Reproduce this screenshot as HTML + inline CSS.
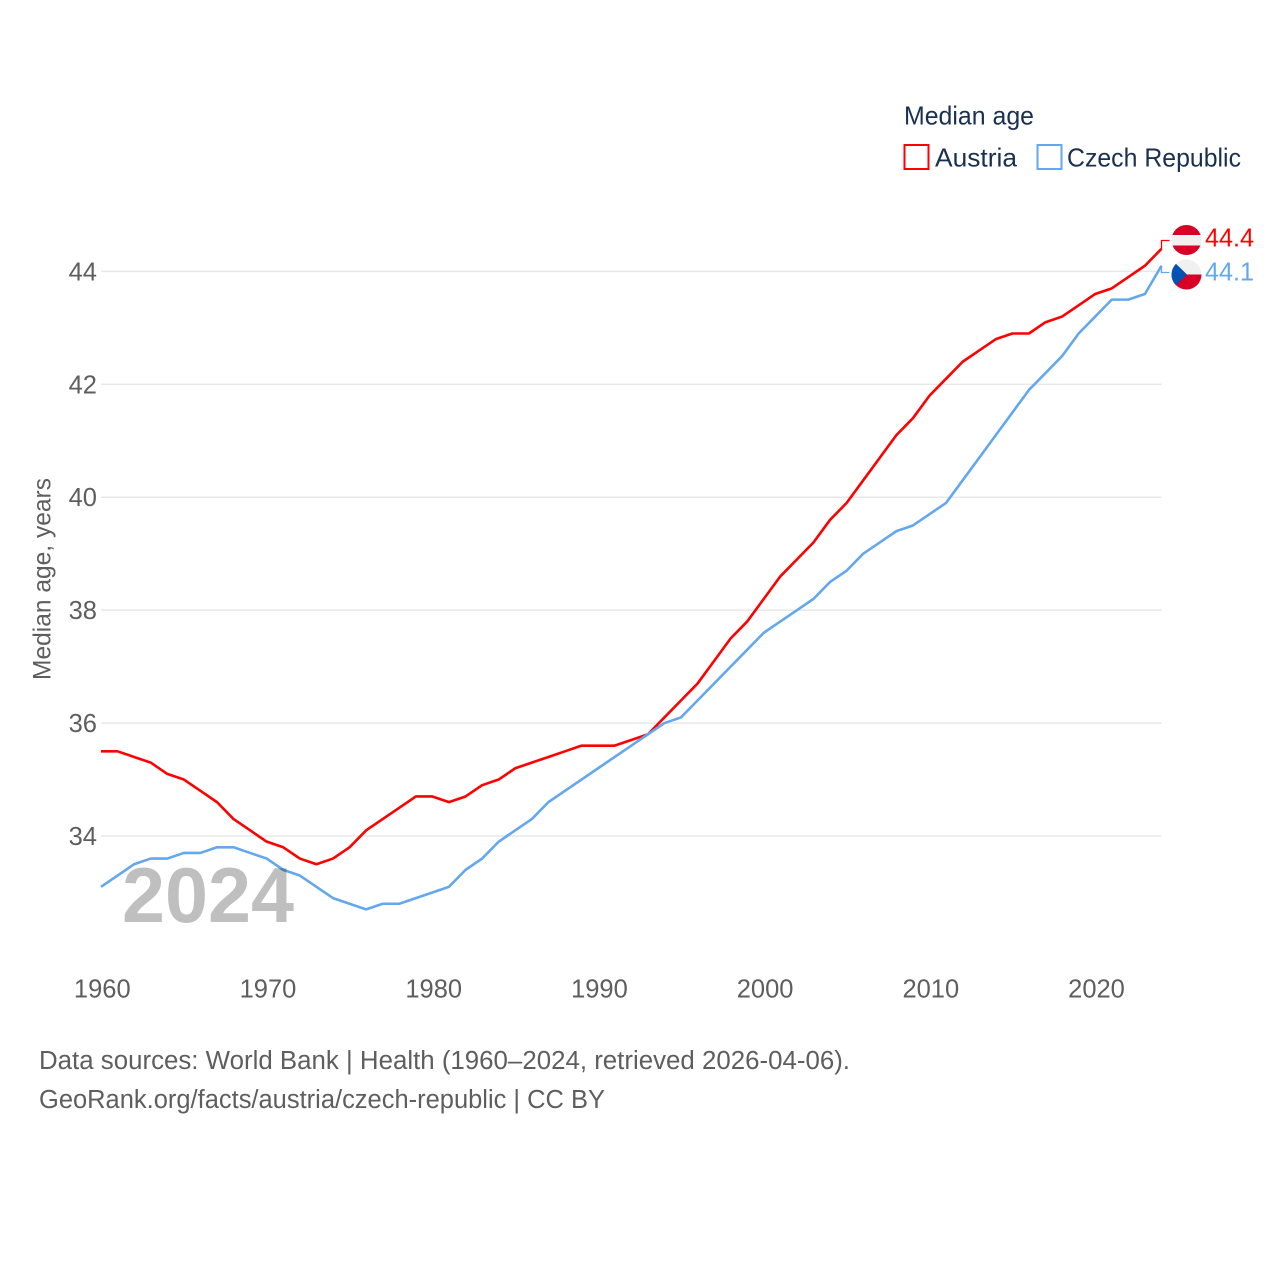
<!DOCTYPE html>
<html lang="en">
<head>
<meta charset="utf-8">
<title>Median age: Austria and Czech Republic</title>
<style>
html,body{margin:0;padding:0;background:#fff;}
svg{display:block;}
text{font-family:"Liberation Sans",sans-serif;}
</style>
</head>
<body>
<svg id="chart" xmlns="http://www.w3.org/2000/svg" width="1280" height="1280" viewBox="0 0 1280 1280">
  <defs>
    <clipPath id="clip-at"><circle cx="1186.5" cy="240" r="15"/></clipPath>
    <clipPath id="clip-cz"><circle cx="1186.5" cy="274.5" r="15"/></clipPath>
  </defs>
  <rect width="1280" height="1280" fill="#ffffff"/>
  <g id="grid"></g>
  <g id="yticks"></g>
  <g id="xticks"></g>
  <g id="lines"></g>
  <text x="122" y="922" font-size="78" font-weight="700" fill="#000" fill-opacity="0.25" textLength="172" lengthAdjust="spacingAndGlyphs">2024</text>

  <text transform="translate(50.5,680) rotate(-90)" font-size="25" fill="#5e5e5e" textLength="202" lengthAdjust="spacingAndGlyphs">Median age, years</text>

  <text x="904" y="124.5" font-size="26" fill="#19304f" textLength="130" lengthAdjust="spacingAndGlyphs">Median age</text>
  <rect x="904.5" y="145" width="24" height="24" fill="none" stroke="#ff0000" stroke-width="2"/>
  <text x="935" y="166.5" font-size="26" fill="#19304f" textLength="82" lengthAdjust="spacingAndGlyphs">Austria</text>
  <rect x="1037.5" y="145" width="24" height="24" fill="none" stroke="#63a8ee" stroke-width="2"/>
  <text x="1067" y="166.5" font-size="26" fill="#19304f" textLength="174" lengthAdjust="spacingAndGlyphs">Czech Republic</text>

  <g clip-path="url(#clip-at)">
    <rect x="1171" y="225" width="31" height="31" fill="#f0f0f0"/>
    <rect x="1171" y="225" width="31" height="10" fill="#d80027"/>
    <rect x="1171" y="245.5" width="31" height="11" fill="#d80027"/>
  </g>
  <g clip-path="url(#clip-cz)">
    <rect x="1171" y="259" width="31" height="16" fill="#f0f0f0"/>
    <rect x="1171" y="274.5" width="31" height="16" fill="#d80027"/>
    <polygon points="1171,259 1187,274.5 1171,290" fill="#0052b4"/>
  </g>
  <text x="1205" y="246.5" font-size="25.5" fill="#ff0000" textLength="49" lengthAdjust="spacingAndGlyphs">44.4</text>
  <text x="1205" y="280.5" font-size="25.5" fill="#63a8ee" textLength="49" lengthAdjust="spacingAndGlyphs">44.1</text>

  <text x="39" y="1069" font-size="25.5" fill="#5e5e5e" textLength="811" lengthAdjust="spacingAndGlyphs">Data sources: World Bank | Health (1960–2024, retrieved 2026-04-06).</text>
  <text x="39" y="1108" font-size="25.5" fill="#5e5e5e" textLength="566" lengthAdjust="spacingAndGlyphs">GeoRank.org/facts/austria/czech-republic | CC BY</text>
</svg>
<script>
const firstYear = 1960;
const austriaValues = [35.5,35.5,35.4,35.3,35.1,35.0,34.8,34.6,34.3,34.1,33.9,33.8,33.6,33.5,33.6,33.8,34.1,34.3,34.5,34.7,34.7,34.6,34.7,34.9,35.0,35.2,35.3,35.4,35.5,35.6,35.6,35.6,35.7,35.8,36.1,36.4,36.7,37.1,37.5,37.8,38.2,38.6,38.9,39.2,39.6,39.9,40.3,40.7,41.1,41.4,41.8,42.1,42.4,42.6,42.8,42.9,42.9,43.1,43.2,43.4,43.6,43.7,43.9,44.1,44.4];
const czechValues = [33.1,33.3,33.5,33.6,33.6,33.7,33.7,33.8,33.8,33.7,33.6,33.4,33.3,33.1,32.9,32.8,32.7,32.8,32.8,32.9,33.0,33.1,33.4,33.6,33.9,34.1,34.3,34.6,34.8,35.0,35.2,35.4,35.6,35.8,36.0,36.1,36.4,36.7,37.0,37.3,37.6,37.8,38.0,38.2,38.5,38.7,39.0,39.2,39.4,39.5,39.7,39.9,40.3,40.7,41.1,41.5,41.9,42.2,42.5,42.9,43.2,43.5,43.5,43.6,44.1];
const yTickValues = [34,36,38,40,42,44];
const xTickValues = [1960,1970,1980,1990,2000,2010,2020];

const NS = 'http://www.w3.org/2000/svg';
function xScale(year){ return 101 + (year - 1960) * (1161.5 - 101) / 64; }
function yScale(v){ return 836 - (v - 34) * (836 - 271.4) / 10; }

function make(tag, attrs, parent){
  const el = document.createElementNS(NS, tag);
  Object.keys(attrs).forEach(function(k){ el.setAttribute(k, attrs[k]); });
  parent.appendChild(el);
  return el;
}

const grid = document.getElementById('grid');
const yticks = document.getElementById('yticks');
const xticks = document.getElementById('xticks');
const lines = document.getElementById('lines');

yTickValues.forEach(function(v){
  const line = make('line', {x1:101, x2:1161.5, y1:yScale(v), y2:yScale(v), stroke:'#e8e8e8', 'stroke-width':1.5}, grid);
  
  
  const label = make('text', {x:97, y:yScale(v) + 9, 'text-anchor':'end', 'font-size':25.5, fill:'#5e5e5e'}, yticks);
  
  
  label.textContent = v;
});

xTickValues.forEach(function(y){
  const label = make('text', {x:xScale(y) + 1.3, y:997.5, 'text-anchor':'middle', 'font-size':25.5, fill:'#5e5e5e'}, xticks);
  
  
  label.textContent = y;
});

function drawSeries(values, color, name, connectorY){
  const pts = values.map(function(v, i){ return xScale(firstYear + i).toFixed(2) + ',' + yScale(v).toFixed(2); });
  const path = make('polyline', {points:pts.join(' '), fill:'none', stroke:color, 'stroke-width':2.6, 'stroke-linejoin':'round'}, lines);
  
  
  const lastX = xScale(firstYear + values.length - 1);
  const lastY = yScale(values[values.length - 1]);
  const conn = make('polyline', {points:lastX + ',' + lastY + ' ' + lastX + ',' + connectorY + ' ' + (lastX + 8) + ',' + connectorY, fill:'none', stroke:color, 'stroke-width':1.3}, lines);
  
  
}
drawSeries(austriaValues, '#ff0000', 'austria', 240.5);
drawSeries(czechValues, '#63a8ee', 'czech-republic', 272.5);
</script>
</body>
</html>
